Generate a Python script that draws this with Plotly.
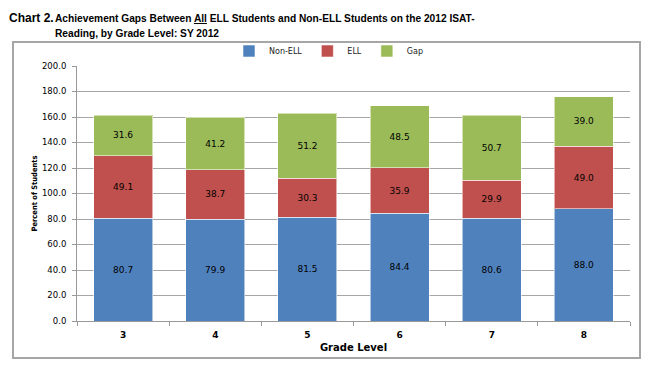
import plotly.graph_objects as go

grades = ["3", "4", "5", "6", "7", "8"]
non_ell = [80.7, 79.9, 81.5, 84.4, 80.6, 88.0]
ell = [49.1, 38.7, 30.3, 35.9, 29.9, 49.0]
gap = [31.6, 41.2, 51.2, 48.5, 50.7, 39.0]
y_ticks = [0, 20, 40, 60, 80, 100, 120, 140, 160, 180, 200]

series = [("Non-ELL", non_ell, "#4F81BD"), ("ELL", ell, "#C0504D"), ("Gap", gap, "#9BBB59")]

fig = go.Figure()
for name, vals, col in series:
    fig.add_trace(go.Bar(
        x=grades, y=vals, name=name,
        marker=dict(color=col, line=dict(color="rgba(255,255,255,0.55)", width=1)),
        text=[f"{v:.1f}" for v in vals], textposition="inside", insidetextanchor="middle",
        textfont=dict(family="DejaVu Sans", size=9, color="black"),
        width=0.64,
    ))

# page has an 8px body margin; compensate so page pixels match the reference
OFF = 8
W, H = 655 - OFF, 377 - OFF
PL, PR, PT, PB = 77, 630, 66, 321          # plot area in page pixels
L, T = PL - OFF, PT - OFF
R, B = W - (PR - OFF), H - (PB - OFF)
pw, ph = W - L - R, H - T - B

def px(x):
    return (x - OFF - L) / pw

def py(y):
    return (H - B - (y - OFF)) / ph

title_font = "Liberation Sans, Arial"

fig.update_layout(
    width=W, height=H, barmode="stack", bargap=0.36,
    margin=dict(l=L, r=R, t=T, b=B, autoexpand=False),
    paper_bgcolor="white", plot_bgcolor="white",
    font=dict(family="DejaVu Sans", size=9, color="black"),
    legend=dict(orientation="h", x=px(329), xanchor="center", y=py(51), yanchor="middle",
                traceorder="normal",
                font=dict(family="DejaVu Sans", size=8, color="#222"), itemwidth=30,
                tracegroupgap=0, bgcolor="rgba(0,0,0,0)"),
    showlegend=True,
    xaxis=dict(type="category", tickson="boundaries", ticks="outside", ticklen=4, tickcolor="#999",
               showline=True, linecolor="#999", linewidth=1, showgrid=False, automargin=False,
               ticklabelstandoff=5,
               tickfont=dict(family="DejaVu Sans", size=9, color="black", weight="bold"),
               title=dict(text="<b>Grade Level</b>", font=dict(family="DejaVu Sans", size=10), standoff=5)),
    yaxis=dict(range=[0, 200], tickvals=y_ticks, tickformat=".1f", ticks="outside", ticklen=4,
               tickcolor="#999", showline=True, linecolor="#999", linewidth=1, automargin=False,
               ticklabelstandoff=4,
               showgrid=True, gridcolor="#A6A6A6", gridwidth=1, zeroline=False,
               tickfont=dict(family="DejaVu Sans", size=8.5, color="black"),
               title=dict(text="<b>Percent of Students</b>", font=dict(family="DejaVu Sans Condensed, DejaVu Sans", size=7.5), standoff=3)),
    shapes=[dict(type="rect", xref="paper", yref="paper", x0=px(13), x1=px(640), y0=py(358), y1=py(42),
                 line=dict(color="#A6A6A6", width=2), fillcolor="rgba(0,0,0,0)", layer="below")],
    annotations=[
        dict(text="<b>Chart 2.</b>", xref="paper", yref="paper", x=px(7), y=py(18), xanchor="left", yanchor="middle",
             showarrow=False, font=dict(family=title_font, size=12, color="black")),
        dict(text="<b>Achievement Gaps Between <u>All</u> ELL Students and Non-ELL Students on the 2012 ISAT-</b>",
             xref="paper", yref="paper", x=px(53), y=py(18), xanchor="left", yanchor="middle",
             showarrow=False, font=dict(family=title_font, size=10.2, color="black")),
        dict(text="<b>Reading, by Grade Level: SY 2012</b>",
             xref="paper", yref="paper", x=px(53), y=py(33), xanchor="left", yanchor="middle",
             showarrow=False, font=dict(family=title_font, size=10.2, color="black")),
    ],
)

fig.write_html("out.html")
